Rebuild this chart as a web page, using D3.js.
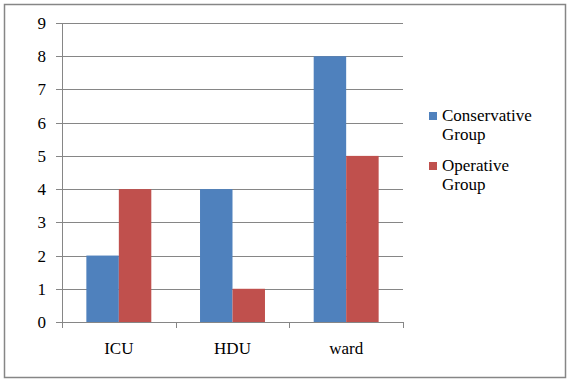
<!DOCTYPE html>
<html>
<head>
<meta charset="utf-8">
<script src="https://cdn.jsdelivr.net/npm/d3@7"></script>
<style>
  body { margin: 0; background: #fff; }
</style>
</head>
<body>
<svg id="chart" width="571" height="384"></svg>
<script>
const categories = ["ICU", "HDU", "ward"]
const seriesNames = ["Conservative Group", "Operative Group"]
const conservative = [2, 4, 8]
const operative = [4, 1, 5]
const yTicks = [0, 1, 2, 3, 4, 5, 6, 7, 8, 9]

const colors = ["#4F81BD", "#C0504D"]
const plot = { left: 62, right: 403, top: 23, bottom: 322 }

const svg = d3.select("#chart")
    .style("font-family", "'Liberation Serif', 'DejaVu Serif', serif")
    .style("font-size", "17px")

svg.append("rect")
    .attr("x", 4.5).attr("y", 4.5)
    .attr("width", 561).attr("height", 373)
    .attr("fill", "#fff")
    .attr("stroke", "#868686")
    .attr("stroke-width", 1.5)

const x = d3.scaleBand().domain(categories).range([plot.left, plot.right])
const y = d3.scaleLinear().domain([0, 9]).range([plot.bottom, plot.top])

// gridlines
svg.append("g").selectAll("line").data(yTicks).join("line")
    .attr("x1", plot.left - 6).attr("x2", plot.right)
    .attr("y1", d => Math.round(y(d)) + 0.5).attr("y2", d => Math.round(y(d)) + 0.5)
    .attr("stroke", "#868686")

// y labels
svg.append("g").selectAll("text").data(yTicks).join("text")
    .attr("x", 46).attr("y", d => y(d)).attr("dy", "0.35em")
    .attr("text-anchor", "end")
    .text(d => d)

// bars, gap width 150% of a bar
const barW = x.bandwidth() / 3.5
const off = barW * 0.75
const rows = categories.map((c, i) => ({ cat: c, vals: [conservative[i], operative[i]] }))

svg.append("g").selectAll("g").data(rows).join("g")
    .attr("transform", d => "translate(" + x(d.cat) + ",0)")
    .selectAll("rect")
    .data(d => d.vals.map((v, k) => ({ v, k })))
    .join("rect")
    .attr("x", d => off + d.k * barW)
    .attr("width", barW)
    .attr("y", d => y(d.v))
    .attr("height", d => y(0) - y(d.v))
    .attr("fill", d => colors[d.k])

// axes
svg.append("line")
    .attr("x1", plot.left + 0.5).attr("x2", plot.left + 0.5)
    .attr("y1", plot.top).attr("y2", plot.bottom)
    .attr("stroke", "#868686")
svg.append("line")
    .attr("x1", plot.left).attr("x2", plot.right)
    .attr("y1", plot.bottom + 0.5).attr("y2", plot.bottom + 0.5)
    .attr("stroke", "#868686")
svg.append("g").selectAll("line").data(d3.range(categories.length + 1)).join("line")
    .attr("x1", i => Math.round(plot.left + i * x.step()) + 0.5)
    .attr("x2", i => Math.round(plot.left + i * x.step()) + 0.5)
    .attr("y1", plot.bottom).attr("y2", plot.bottom + 6)
    .attr("stroke", "#868686")
svg.append("g").selectAll("text").data(categories).join("text")
    .attr("x", d => x(d) + x.bandwidth() / 2)
    .attr("y", 354)
    .attr("text-anchor", "middle")
    .text(d => d)

// legend
const legend = svg.append("g").selectAll("g").data(seriesNames).join("g")
    .attr("transform", (d, i) => "translate(429," + (112 + i * 50) + ")")
legend.append("rect")
    .attr("width", 8).attr("height", 8)
    .attr("fill", (d, i) => colors[i])
legend.append("text")
    .attr("y", 8.5)
    .selectAll("tspan")
    .data(d => d.split(" "))
    .join("tspan")
    .attr("x", 13)
    .attr("dy", (d, i) => i ? 19.5 : 0)
    .text(d => d)
</script>
</body>
</html>
